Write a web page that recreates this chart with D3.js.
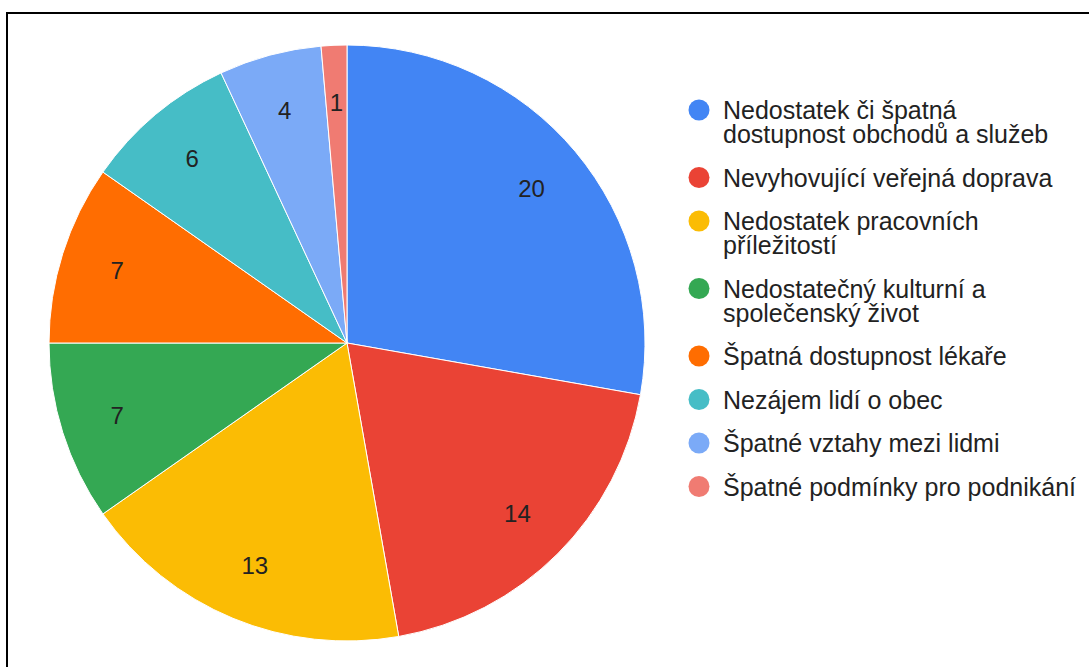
<!DOCTYPE html>
<html><head><meta charset="utf-8">
<script src="https://cdn.jsdelivr.net/npm/d3@7"></script>
<style>html,body{margin:0;padding:0;background:#fff;}svg{display:block;}</style>
</head><body>
<svg id="chart" width="1089" height="667"></svg>
<script>
const categories = [
  "Nedostatek či špatná dostupnost obchodů a služeb",
  "Nevyhovující veřejná doprava",
  "Nedostatek pracovních příležitostí",
  "Nedostatečný kulturní a společenský život",
  "Špatná dostupnost lékaře",
  "Nezájem lidí o obec",
  "Špatné vztahy mezi lidmi",
  "Špatné podmínky pro podnikání"
];
const legendLines = [
  ["Nedostatek či špatná", "dostupnost obchodů a služeb"],
  ["Nevyhovující veřejná doprava"],
  ["Nedostatek pracovních", "příležitostí"],
  ["Nedostatečný kulturní a", "společenský život"],
  ["Špatná dostupnost lékaře"],
  ["Nezájem lidí o obec"],
  ["Špatné vztahy mezi lidmi"],
  ["Špatné podmínky pro podnikání"]
];
const values = [20, 14, 13, 7, 7, 6, 4, 1];
const colors = ["#4285F4", "#EA4335", "#FBBC04", "#34A853", "#FF6D01", "#46BDC6", "#7BAAF7", "#F07B72"];

const svg = d3.select("#chart");
const font = "'Liberation Sans', Arial, sans-serif";

// frame (left and top edges visible)
svg.append("path").attr("d", "M7,667 L7,13 L1089,13")
  .attr("fill", "none").attr("stroke", "#000").attr("stroke-width", 2);

const cx = 347, cy = 343, r = 298;
const color = d3.scaleOrdinal().domain(categories).range(colors);
const pie = d3.pie().sort(null).value(d => d.v);
const data = categories.map((c, i) => ({ c, v: values[i] }));
const arcs = pie(data);
const arc = d3.arc().innerRadius(0).outerRadius(r);
const labelArc = d3.arc().innerRadius(241).outerRadius(241);

const g = svg.append("g").attr("transform", `translate(${cx},${cy})`);
g.selectAll("path.slice").data(arcs).join("path")
  .attr("class", "slice")
  .attr("d", arc)
  .attr("fill", d => color(d.data.c))
  .attr("stroke", "#fff").attr("stroke-width", 1);

g.selectAll("text.lbl").data(arcs).join("text")
  .attr("class", "lbl")
  .attr("transform", d => `translate(${labelArc.centroid(d)})`)
  .attr("text-anchor", "middle")
  .attr("dy", "0.36em")
  .attr("font-family", font).attr("font-size", 24)
  .attr("fill", "#222")
  .text(d => d.data.v);

// legend
const lg = svg.append("g").attr("transform", "translate(699,110)");
let y = 0;
categories.forEach((c, i) => {
  const item = lg.append("g").attr("transform", `translate(0,${y})`);
  item.append("circle").attr("r", 10.5).attr("fill", color(c));
  const t = item.append("text").attr("font-family", font).attr("font-size", 25).attr("fill", "#222");
  legendLines[i].forEach((ln, j) => {
    t.append("tspan").attr("x", 24).attr("y", 9 + j * 24).text(ln);
  });
  y += 19.5 + legendLines[i].length * 24;
});
</script>
</body></html>
